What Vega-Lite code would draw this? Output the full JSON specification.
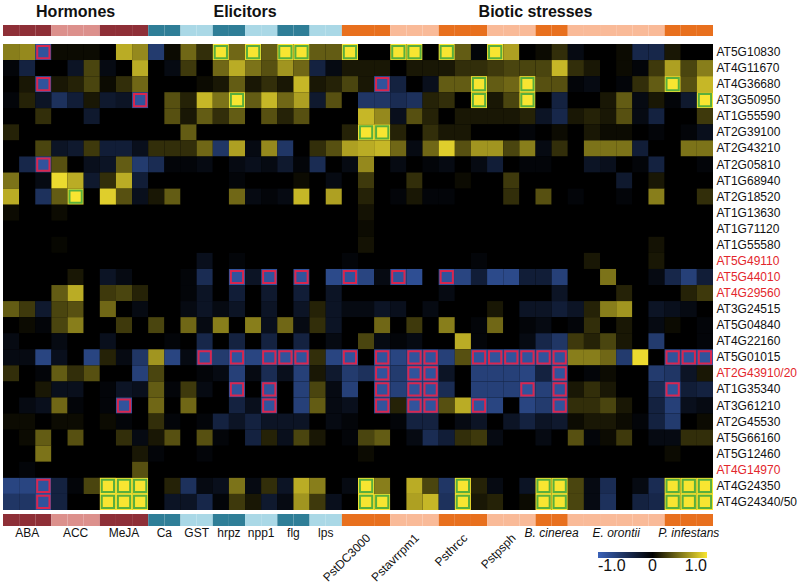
{
"$schema":"https://vega.github.io/schema/vega-lite/v6.json",
"padding":{"left":3,"top":4,"right":0,"bottom":0},
"background":"white",
"config":{"font":"Liberation Sans","view":{"stroke":null}},
"bounds":"flush",
"spacing":8,
"datasets":{
"genes":[{"r":0,"g":"AT5G10830"},{"r":1,"g":"AT4G11670"},{"r":2,"g":"AT4G36680"},{"r":3,"g":"AT3G50950"},{"r":4,"g":"AT1G55590"},{"r":5,"g":"AT2G39100"},{"r":6,"g":"AT2G43210"},{"r":7,"g":"AT2G05810"},{"r":8,"g":"AT1G68940"},{"r":9,"g":"AT2G18520"},{"r":10,"g":"AT1G13630"},{"r":11,"g":"AT1G71120"},{"r":12,"g":"AT1G55580"},{"r":13,"g":"AT5G49110"},{"r":14,"g":"AT5G44010"},{"r":15,"g":"AT4G29560"},{"r":16,"g":"AT3G24515"},{"r":17,"g":"AT5G04840"},{"r":18,"g":"AT4G22160"},{"r":19,"g":"AT5G01015"},{"r":20,"g":"AT2G43910/20"},{"r":21,"g":"AT1G35340"},{"r":22,"g":"AT3G61210"},{"r":23,"g":"AT2G45530"},{"r":24,"g":"AT5G66160"},{"r":25,"g":"AT5G12460"},{"r":26,"g":"AT4G14970"},{"r":27,"g":"AT4G24350"},{"r":28,"g":"AT4G24340/50"}],
"cols":[{"c":0,"grp":"ABA"},{"c":1,"grp":"ABA"},{"c":2,"grp":"ABA"},{"c":3,"grp":"ACC"},{"c":4,"grp":"ACC"},{"c":5,"grp":"ACC"},{"c":6,"grp":"MeJA"},{"c":7,"grp":"MeJA"},{"c":8,"grp":"MeJA"},{"c":9,"grp":"Ca"},{"c":10,"grp":"Ca"},{"c":11,"grp":"GST"},{"c":12,"grp":"GST"},{"c":13,"grp":"hrpz"},{"c":14,"grp":"hrpz"},{"c":15,"grp":"npp1"},{"c":16,"grp":"npp1"},{"c":17,"grp":"flg"},{"c":18,"grp":"flg"},{"c":19,"grp":"lps"},{"c":20,"grp":"lps"},{"c":21,"grp":"PstDC3000"},{"c":22,"grp":"PstDC3000"},{"c":23,"grp":"PstDC3000"},{"c":24,"grp":"Pstavrrpm1"},{"c":25,"grp":"Pstavrrpm1"},{"c":26,"grp":"Pstavrrpm1"},{"c":27,"grp":"Psthrcc"},{"c":28,"grp":"Psthrcc"},{"c":29,"grp":"Psthrcc"},{"c":30,"grp":"Pstpsph"},{"c":31,"grp":"Pstpsph"},{"c":32,"grp":"Pstpsph"},{"c":33,"grp":"B. cinerea"},{"c":34,"grp":"B. cinerea"},{"c":35,"grp":"E. orontii"},{"c":36,"grp":"E. orontii"},{"c":37,"grp":"E. orontii"},{"c":38,"grp":"E. orontii"},{"c":39,"grp":"E. orontii"},{"c":40,"grp":"E. orontii"},{"c":41,"grp":"P. infestans"},{"c":42,"grp":"P. infestans"},{"c":43,"grp":"P. infestans"}],
"cells":[
{"r":0,"c":0,"v":0.55},{"r":0,"c":1,"v":0.6},{"r":0,"c":2,"v":-0.85,"s":-1},{"r":0,"c":3,"v":0.05},{"r":0,"c":4,"v":0.05},{"r":0,"c":5,"v":0.05},{"r":0,"c":6,"v":0},{"r":0,"c":7,"v":0.75},{"r":0,"c":8,"v":0.6},{"r":0,"c":9,"v":-0.6},{"r":0,"c":10,"v":0.05},{"r":0,"c":11,"v":0.45},{"r":0,"c":12,"v":0.2},{"r":0,"c":13,"v":1,"s":1},{"r":0,"c":14,"v":0.45},{"r":0,"c":15,"v":1,"s":1},{"r":0,"c":16,"v":0.4},{"r":0,"c":17,"v":1,"s":1},{"r":0,"c":18,"v":1,"s":1},{"r":0,"c":19,"v":0.4},{"r":0,"c":20,"v":0.4},{"r":0,"c":21,"v":1,"s":1},{"r":0,"c":22,"v":0},{"r":0,"c":23,"v":0},{"r":0,"c":24,"v":1,"s":1},{"r":0,"c":25,"v":1,"s":1},{"r":0,"c":26,"v":0},{"r":0,"c":27,"v":1,"s":1},{"r":0,"c":28,"v":0.4},{"r":0,"c":29,"v":-0.05},{"r":0,"c":30,"v":1,"s":1},{"r":0,"c":31,"v":0.7},{"r":0,"c":32,"v":0},{"r":0,"c":33,"v":0.05},{"r":0,"c":34,"v":0.2},{"r":0,"c":35,"v":-0.1},{"r":0,"c":36,"v":0},{"r":0,"c":37,"v":0},{"r":0,"c":38,"v":0.05},{"r":0,"c":39,"v":-0.4},{"r":0,"c":40,"v":-0.4},{"r":0,"c":41,"v":0.1},{"r":0,"c":42,"v":0},{"r":0,"c":43,"v":0},
{"r":1,"c":0,"v":-0.05},{"r":1,"c":1,"v":-0.35},{"r":1,"c":2,"v":0},{"r":1,"c":3,"v":0},{"r":1,"c":4,"v":-0.2},{"r":1,"c":5,"v":0.3},{"r":1,"c":6,"v":-0.1},{"r":1,"c":7,"v":0},{"r":1,"c":8,"v":0.75},{"r":1,"c":9,"v":0},{"r":1,"c":10,"v":-0.1},{"r":1,"c":11,"v":0.25},{"r":1,"c":12,"v":0},{"r":1,"c":13,"v":0.45},{"r":1,"c":14,"v":0.75},{"r":1,"c":15,"v":0.5},{"r":1,"c":16,"v":0.35},{"r":1,"c":17,"v":0.65},{"r":1,"c":18,"v":0.45},{"r":1,"c":19,"v":-0.35},{"r":1,"c":20,"v":-0.1},{"r":1,"c":21,"v":0.1},{"r":1,"c":22,"v":0.1},{"r":1,"c":23,"v":0.1},{"r":1,"c":24,"v":0},{"r":1,"c":25,"v":0.1},{"r":1,"c":26,"v":0.1},{"r":1,"c":27,"v":0.1},{"r":1,"c":28,"v":0.2},{"r":1,"c":29,"v":0.2},{"r":1,"c":30,"v":0.25},{"r":1,"c":31,"v":0.3},{"r":1,"c":32,"v":0.3},{"r":1,"c":33,"v":0.3},{"r":1,"c":34,"v":0.8},{"r":1,"c":35,"v":0.2},{"r":1,"c":36,"v":0.1},{"r":1,"c":37,"v":0},{"r":1,"c":38,"v":0.05},{"r":1,"c":39,"v":-0.05},{"r":1,"c":40,"v":0.25},{"r":1,"c":41,"v":0.7},{"r":1,"c":42,"v":0.3},{"r":1,"c":43,"v":0.55},
{"r":2,"c":0,"v":0},{"r":2,"c":1,"v":0.1},{"r":2,"c":2,"v":-0.85,"s":-1},{"r":2,"c":3,"v":0.1},{"r":2,"c":4,"v":0.15},{"r":2,"c":5,"v":0.3},{"r":2,"c":6,"v":0.05},{"r":2,"c":7,"v":0.2},{"r":2,"c":8,"v":0.45},{"r":2,"c":9,"v":0},{"r":2,"c":10,"v":0},{"r":2,"c":11,"v":0},{"r":2,"c":12,"v":0.05},{"r":2,"c":13,"v":0.1},{"r":2,"c":14,"v":0.4},{"r":2,"c":15,"v":0.1},{"r":2,"c":16,"v":0.2},{"r":2,"c":17,"v":0.1},{"r":2,"c":18,"v":0.8},{"r":2,"c":19,"v":0.1},{"r":2,"c":20,"v":0.15},{"r":2,"c":21,"v":0.3},{"r":2,"c":22,"v":0.1},{"r":2,"c":23,"v":-0.85,"s":-1},{"r":2,"c":24,"v":-0.35},{"r":2,"c":25,"v":0},{"r":2,"c":26,"v":-0.15},{"r":2,"c":27,"v":0.4},{"r":2,"c":28,"v":0.4},{"r":2,"c":29,"v":1,"s":1},{"r":2,"c":30,"v":0.4},{"r":2,"c":31,"v":0.45},{"r":2,"c":32,"v":1,"s":1},{"r":2,"c":33,"v":0.35},{"r":2,"c":34,"v":0.35},{"r":2,"c":35,"v":-0.05},{"r":2,"c":36,"v":-0.1},{"r":2,"c":37,"v":0},{"r":2,"c":38,"v":-0.05},{"r":2,"c":39,"v":0.2},{"r":2,"c":40,"v":0.4},{"r":2,"c":41,"v":1,"s":1},{"r":2,"c":42,"v":0.35},{"r":2,"c":43,"v":0.8},
{"r":3,"c":0,"v":-0.05},{"r":3,"c":1,"v":0.15},{"r":3,"c":2,"v":-0.2},{"r":3,"c":3,"v":-0.5},{"r":3,"c":4,"v":-0.3},{"r":3,"c":5,"v":0.1},{"r":3,"c":6,"v":-0.25},{"r":3,"c":7,"v":-0.2},{"r":3,"c":8,"v":-0.85,"s":-1},{"r":3,"c":9,"v":0},{"r":3,"c":10,"v":0.35},{"r":3,"c":11,"v":0.15},{"r":3,"c":12,"v":0.8},{"r":3,"c":13,"v":0.5},{"r":3,"c":14,"v":1,"s":1},{"r":3,"c":15,"v":0.4},{"r":3,"c":16,"v":0.8},{"r":3,"c":17,"v":0.45},{"r":3,"c":18,"v":0.7},{"r":3,"c":19,"v":-0.25},{"r":3,"c":20,"v":0.35},{"r":3,"c":21,"v":0},{"r":3,"c":22,"v":-0.55},{"r":3,"c":23,"v":-0.55},{"r":3,"c":24,"v":-0.45},{"r":3,"c":25,"v":-0.5},{"r":3,"c":26,"v":0.15},{"r":3,"c":27,"v":0.2},{"r":3,"c":28,"v":0},{"r":3,"c":29,"v":1,"s":1},{"r":3,"c":30,"v":0.1},{"r":3,"c":31,"v":0.3},{"r":3,"c":32,"v":1,"s":1},{"r":3,"c":33,"v":0},{"r":3,"c":34,"v":-0.35},{"r":3,"c":35,"v":0},{"r":3,"c":36,"v":0},{"r":3,"c":37,"v":0.1},{"r":3,"c":38,"v":0.4},{"r":3,"c":39,"v":-0.1},{"r":3,"c":40,"v":0.1},{"r":3,"c":41,"v":-0.05},{"r":3,"c":42,"v":-0.25},{"r":3,"c":43,"v":1,"s":1},
{"r":4,"c":0,"v":0},{"r":4,"c":1,"v":0},{"r":4,"c":2,"v":0.2},{"r":4,"c":3,"v":0},{"r":4,"c":4,"v":0},{"r":4,"c":5,"v":-0.25},{"r":4,"c":6,"v":0},{"r":4,"c":7,"v":0},{"r":4,"c":8,"v":0},{"r":4,"c":9,"v":0},{"r":4,"c":10,"v":0.35},{"r":4,"c":11,"v":0.1},{"r":4,"c":12,"v":0.4},{"r":4,"c":13,"v":0.2},{"r":4,"c":14,"v":0.4},{"r":4,"c":15,"v":0},{"r":4,"c":16,"v":0.35},{"r":4,"c":17,"v":0.15},{"r":4,"c":18,"v":0.35},{"r":4,"c":19,"v":0},{"r":4,"c":20,"v":0},{"r":4,"c":21,"v":0},{"r":4,"c":22,"v":0.8},{"r":4,"c":23,"v":0.6},{"r":4,"c":24,"v":-0.15},{"r":4,"c":25,"v":0.35},{"r":4,"c":26,"v":0.15},{"r":4,"c":27,"v":0},{"r":4,"c":28,"v":0.1},{"r":4,"c":29,"v":0.1},{"r":4,"c":30,"v":0.1},{"r":4,"c":31,"v":0.1},{"r":4,"c":32,"v":0.15},{"r":4,"c":33,"v":-0.2},{"r":4,"c":34,"v":-0.4},{"r":4,"c":35,"v":0.1},{"r":4,"c":36,"v":0.15},{"r":4,"c":37,"v":0.1},{"r":4,"c":38,"v":0.35},{"r":4,"c":39,"v":-0.1},{"r":4,"c":40,"v":-0.35},{"r":4,"c":41,"v":0},{"r":4,"c":42,"v":0},{"r":4,"c":43,"v":0.25},
{"r":5,"c":0,"v":0.15},{"r":5,"c":1,"v":0},{"r":5,"c":2,"v":0},{"r":5,"c":3,"v":0},{"r":5,"c":4,"v":0},{"r":5,"c":5,"v":0},{"r":5,"c":6,"v":0},{"r":5,"c":7,"v":0},{"r":5,"c":8,"v":0},{"r":5,"c":9,"v":0},{"r":5,"c":10,"v":0},{"r":5,"c":11,"v":0.4},{"r":5,"c":12,"v":0},{"r":5,"c":13,"v":0},{"r":5,"c":14,"v":0},{"r":5,"c":15,"v":0},{"r":5,"c":16,"v":0},{"r":5,"c":17,"v":0},{"r":5,"c":18,"v":0},{"r":5,"c":19,"v":0},{"r":5,"c":20,"v":0},{"r":5,"c":21,"v":0.15},{"r":5,"c":22,"v":1,"s":1},{"r":5,"c":23,"v":1,"s":1},{"r":5,"c":24,"v":0.15},{"r":5,"c":25,"v":0},{"r":5,"c":26,"v":0.2},{"r":5,"c":27,"v":0.1},{"r":5,"c":28,"v":0.1},{"r":5,"c":29,"v":0},{"r":5,"c":30,"v":0},{"r":5,"c":31,"v":0},{"r":5,"c":32,"v":-0.05},{"r":5,"c":33,"v":0},{"r":5,"c":34,"v":0.05},{"r":5,"c":35,"v":0},{"r":5,"c":36,"v":0.1},{"r":5,"c":37,"v":0.05},{"r":5,"c":38,"v":0.05},{"r":5,"c":39,"v":0},{"r":5,"c":40,"v":-0.05},{"r":5,"c":41,"v":0},{"r":5,"c":42,"v":-0.05},{"r":5,"c":43,"v":-0.15},
{"r":6,"c":0,"v":0},{"r":6,"c":1,"v":0},{"r":6,"c":2,"v":0.3},{"r":6,"c":3,"v":-0.2},{"r":6,"c":4,"v":-0.25},{"r":6,"c":5,"v":0.25},{"r":6,"c":6,"v":-0.3},{"r":6,"c":7,"v":-0.3},{"r":6,"c":8,"v":-0.15},{"r":6,"c":9,"v":0.2},{"r":6,"c":10,"v":0.2},{"r":6,"c":11,"v":0.2},{"r":6,"c":12,"v":0.45},{"r":6,"c":13,"v":-0.55},{"r":6,"c":14,"v":0.7},{"r":6,"c":15,"v":-0.1},{"r":6,"c":16,"v":0.6},{"r":6,"c":17,"v":-0.55},{"r":6,"c":18,"v":0},{"r":6,"c":19,"v":0.2},{"r":6,"c":20,"v":0.35},{"r":6,"c":21,"v":0.7},{"r":6,"c":22,"v":0.75},{"r":6,"c":23,"v":0.8},{"r":6,"c":24,"v":0.45},{"r":6,"c":25,"v":-0.1},{"r":6,"c":26,"v":0.45},{"r":6,"c":27,"v":0.9},{"r":6,"c":28,"v":0.35},{"r":6,"c":29,"v":0.65},{"r":6,"c":30,"v":0.65},{"r":6,"c":31,"v":0.3},{"r":6,"c":32,"v":0.55},{"r":6,"c":33,"v":-0.1},{"r":6,"c":34,"v":0.2},{"r":6,"c":35,"v":0},{"r":6,"c":36,"v":0.5},{"r":6,"c":37,"v":0.5},{"r":6,"c":38,"v":0.5},{"r":6,"c":39,"v":-0.3},{"r":6,"c":40,"v":0},{"r":6,"c":41,"v":0},{"r":6,"c":42,"v":0.5},{"r":6,"c":43,"v":0.5},
{"r":7,"c":0,"v":0},{"r":7,"c":1,"v":-0.4},{"r":7,"c":2,"v":-0.85,"s":-1},{"r":7,"c":3,"v":0.35},{"r":7,"c":4,"v":0},{"r":7,"c":5,"v":-0.15},{"r":7,"c":6,"v":-0.2},{"r":7,"c":7,"v":0.4},{"r":7,"c":8,"v":-0.6},{"r":7,"c":9,"v":-0.45},{"r":7,"c":10,"v":-0.05},{"r":7,"c":11,"v":-0.05},{"r":7,"c":12,"v":-0.1},{"r":7,"c":13,"v":0},{"r":7,"c":14,"v":-0.1},{"r":7,"c":15,"v":-0.15},{"r":7,"c":16,"v":-0.1},{"r":7,"c":17,"v":-0.25},{"r":7,"c":18,"v":-0.05},{"r":7,"c":19,"v":-0.45},{"r":7,"c":20,"v":0},{"r":7,"c":21,"v":-0.1},{"r":7,"c":22,"v":0.6},{"r":7,"c":23,"v":0},{"r":7,"c":24,"v":-0.1},{"r":7,"c":25,"v":0},{"r":7,"c":26,"v":-0.05},{"r":7,"c":27,"v":-0.1},{"r":7,"c":28,"v":0},{"r":7,"c":29,"v":-0.1},{"r":7,"c":30,"v":-0.3},{"r":7,"c":31,"v":0},{"r":7,"c":32,"v":-0.05},{"r":7,"c":33,"v":-0.05},{"r":7,"c":34,"v":0},{"r":7,"c":35,"v":0},{"r":7,"c":36,"v":-0.2},{"r":7,"c":37,"v":-0.15},{"r":7,"c":38,"v":0},{"r":7,"c":39,"v":-0.05},{"r":7,"c":40,"v":-0.35},{"r":7,"c":41,"v":0},{"r":7,"c":42,"v":0},{"r":7,"c":43,"v":-0.05},
{"r":8,"c":0,"v":0.5},{"r":8,"c":1,"v":0},{"r":8,"c":2,"v":-0.1},{"r":8,"c":3,"v":0.95},{"r":8,"c":4,"v":0.75},{"r":8,"c":5,"v":-0.25},{"r":8,"c":6,"v":0.2},{"r":8,"c":7,"v":0.75},{"r":8,"c":8,"v":-0.3},{"r":8,"c":9,"v":0},{"r":8,"c":10,"v":0},{"r":8,"c":11,"v":0},{"r":8,"c":12,"v":0},{"r":8,"c":13,"v":0},{"r":8,"c":14,"v":-0.05},{"r":8,"c":15,"v":0},{"r":8,"c":16,"v":0},{"r":8,"c":17,"v":0},{"r":8,"c":18,"v":0.05},{"r":8,"c":19,"v":0},{"r":8,"c":20,"v":-0.1},{"r":8,"c":21,"v":0},{"r":8,"c":22,"v":0.25},{"r":8,"c":23,"v":0},{"r":8,"c":24,"v":0},{"r":8,"c":25,"v":0.2},{"r":8,"c":26,"v":0},{"r":8,"c":27,"v":0},{"r":8,"c":28,"v":0.05},{"r":8,"c":29,"v":0},{"r":8,"c":30,"v":0},{"r":8,"c":31,"v":0.25},{"r":8,"c":32,"v":0},{"r":8,"c":33,"v":0},{"r":8,"c":34,"v":0},{"r":8,"c":35,"v":0},{"r":8,"c":36,"v":0},{"r":8,"c":37,"v":0},{"r":8,"c":38,"v":-0.25},{"r":8,"c":39,"v":0},{"r":8,"c":40,"v":0.1},{"r":8,"c":41,"v":0},{"r":8,"c":42,"v":0},{"r":8,"c":43,"v":0},
{"r":9,"c":0,"v":0.75},{"r":9,"c":1,"v":0},{"r":9,"c":2,"v":-0.5},{"r":9,"c":3,"v":0.4},{"r":9,"c":4,"v":1,"s":1},{"r":9,"c":5,"v":0},{"r":9,"c":6,"v":0.9},{"r":9,"c":7,"v":0.35},{"r":9,"c":8,"v":-0.15},{"r":9,"c":9,"v":0.1},{"r":9,"c":10,"v":0.4},{"r":9,"c":11,"v":0},{"r":9,"c":12,"v":0},{"r":9,"c":13,"v":0},{"r":9,"c":14,"v":0.45},{"r":9,"c":15,"v":-0.1},{"r":9,"c":16,"v":-0.05},{"r":9,"c":17,"v":-0.1},{"r":9,"c":18,"v":0.8},{"r":9,"c":19,"v":0},{"r":9,"c":20,"v":0.7},{"r":9,"c":21,"v":0},{"r":9,"c":22,"v":0.15},{"r":9,"c":23,"v":0},{"r":9,"c":24,"v":-0.05},{"r":9,"c":25,"v":0.1},{"r":9,"c":26,"v":-0.05},{"r":9,"c":27,"v":-0.05},{"r":9,"c":28,"v":0},{"r":9,"c":29,"v":0},{"r":9,"c":30,"v":0},{"r":9,"c":31,"v":0.2},{"r":9,"c":32,"v":0},{"r":9,"c":33,"v":0.35},{"r":9,"c":34,"v":0},{"r":9,"c":35,"v":-0.05},{"r":9,"c":36,"v":0},{"r":9,"c":37,"v":0},{"r":9,"c":38,"v":-0.05},{"r":9,"c":39,"v":0},{"r":9,"c":40,"v":0.55},{"r":9,"c":41,"v":0},{"r":9,"c":42,"v":0},{"r":9,"c":43,"v":0.2},
{"r":10,"c":0,"v":0.05},{"r":10,"c":1,"v":0},{"r":10,"c":2,"v":0},{"r":10,"c":3,"v":0.05},{"r":10,"c":4,"v":0},{"r":10,"c":5,"v":0},{"r":10,"c":6,"v":0},{"r":10,"c":7,"v":0},{"r":10,"c":8,"v":0},{"r":10,"c":9,"v":0},{"r":10,"c":10,"v":0},{"r":10,"c":11,"v":0},{"r":10,"c":12,"v":0},{"r":10,"c":13,"v":0},{"r":10,"c":14,"v":0},{"r":10,"c":15,"v":0},{"r":10,"c":16,"v":0},{"r":10,"c":17,"v":0},{"r":10,"c":18,"v":0},{"r":10,"c":19,"v":0},{"r":10,"c":20,"v":0},{"r":10,"c":21,"v":0},{"r":10,"c":22,"v":0.08},{"r":10,"c":23,"v":0},{"r":10,"c":24,"v":0},{"r":10,"c":25,"v":0},{"r":10,"c":26,"v":0},{"r":10,"c":27,"v":0},{"r":10,"c":28,"v":0},{"r":10,"c":29,"v":0},{"r":10,"c":30,"v":0},{"r":10,"c":31,"v":0},{"r":10,"c":32,"v":0},{"r":10,"c":33,"v":0},{"r":10,"c":34,"v":0},{"r":10,"c":35,"v":0},{"r":10,"c":36,"v":0},{"r":10,"c":37,"v":0},{"r":10,"c":38,"v":0},{"r":10,"c":39,"v":0},{"r":10,"c":40,"v":0},{"r":10,"c":41,"v":0},{"r":10,"c":42,"v":0},{"r":10,"c":43,"v":0},
{"r":11,"c":0,"v":0},{"r":11,"c":1,"v":0},{"r":11,"c":2,"v":0},{"r":11,"c":3,"v":0},{"r":11,"c":4,"v":0},{"r":11,"c":5,"v":0},{"r":11,"c":6,"v":0},{"r":11,"c":7,"v":0},{"r":11,"c":8,"v":0},{"r":11,"c":9,"v":0},{"r":11,"c":10,"v":0},{"r":11,"c":11,"v":0},{"r":11,"c":12,"v":0},{"r":11,"c":13,"v":0},{"r":11,"c":14,"v":0},{"r":11,"c":15,"v":0},{"r":11,"c":16,"v":0},{"r":11,"c":17,"v":0},{"r":11,"c":18,"v":0},{"r":11,"c":19,"v":0},{"r":11,"c":20,"v":0},{"r":11,"c":21,"v":0},{"r":11,"c":22,"v":0.05},{"r":11,"c":23,"v":0},{"r":11,"c":24,"v":0},{"r":11,"c":25,"v":0},{"r":11,"c":26,"v":0},{"r":11,"c":27,"v":0},{"r":11,"c":28,"v":0},{"r":11,"c":29,"v":0},{"r":11,"c":30,"v":0},{"r":11,"c":31,"v":0},{"r":11,"c":32,"v":0},{"r":11,"c":33,"v":0},{"r":11,"c":34,"v":0},{"r":11,"c":35,"v":0},{"r":11,"c":36,"v":0},{"r":11,"c":37,"v":0},{"r":11,"c":38,"v":0},{"r":11,"c":39,"v":0},{"r":11,"c":40,"v":0},{"r":11,"c":41,"v":0},{"r":11,"c":42,"v":0},{"r":11,"c":43,"v":0},
{"r":12,"c":0,"v":0},{"r":12,"c":1,"v":0},{"r":12,"c":2,"v":0},{"r":12,"c":3,"v":0.03},{"r":12,"c":4,"v":0},{"r":12,"c":5,"v":0},{"r":12,"c":6,"v":0},{"r":12,"c":7,"v":0},{"r":12,"c":8,"v":0},{"r":12,"c":9,"v":0},{"r":12,"c":10,"v":0},{"r":12,"c":11,"v":0},{"r":12,"c":12,"v":0},{"r":12,"c":13,"v":0},{"r":12,"c":14,"v":0},{"r":12,"c":15,"v":0},{"r":12,"c":16,"v":0},{"r":12,"c":17,"v":0},{"r":12,"c":18,"v":0},{"r":12,"c":19,"v":0},{"r":12,"c":20,"v":0},{"r":12,"c":21,"v":0},{"r":12,"c":22,"v":0.08},{"r":12,"c":23,"v":0},{"r":12,"c":24,"v":0},{"r":12,"c":25,"v":0},{"r":12,"c":26,"v":0},{"r":12,"c":27,"v":0},{"r":12,"c":28,"v":0},{"r":12,"c":29,"v":0},{"r":12,"c":30,"v":0},{"r":12,"c":31,"v":0},{"r":12,"c":32,"v":0},{"r":12,"c":33,"v":0},{"r":12,"c":34,"v":0},{"r":12,"c":35,"v":0},{"r":12,"c":36,"v":0},{"r":12,"c":37,"v":0},{"r":12,"c":38,"v":0},{"r":12,"c":39,"v":0},{"r":12,"c":40,"v":0.08},{"r":12,"c":41,"v":0},{"r":12,"c":42,"v":0},{"r":12,"c":43,"v":0},
{"r":13,"c":0,"v":0},{"r":13,"c":1,"v":0},{"r":13,"c":2,"v":0},{"r":13,"c":3,"v":0},{"r":13,"c":4,"v":0},{"r":13,"c":5,"v":0},{"r":13,"c":6,"v":0},{"r":13,"c":7,"v":0},{"r":13,"c":8,"v":0},{"r":13,"c":9,"v":0},{"r":13,"c":10,"v":0},{"r":13,"c":11,"v":0},{"r":13,"c":12,"v":-0.15},{"r":13,"c":13,"v":0},{"r":13,"c":14,"v":-0.05},{"r":13,"c":15,"v":0},{"r":13,"c":16,"v":0},{"r":13,"c":17,"v":0},{"r":13,"c":18,"v":0},{"r":13,"c":19,"v":0},{"r":13,"c":20,"v":0},{"r":13,"c":21,"v":-0.05},{"r":13,"c":22,"v":0},{"r":13,"c":23,"v":0},{"r":13,"c":24,"v":0},{"r":13,"c":25,"v":0},{"r":13,"c":26,"v":0},{"r":13,"c":27,"v":0},{"r":13,"c":28,"v":0},{"r":13,"c":29,"v":-0.05},{"r":13,"c":30,"v":0},{"r":13,"c":31,"v":0},{"r":13,"c":32,"v":0},{"r":13,"c":33,"v":0},{"r":13,"c":34,"v":0},{"r":13,"c":35,"v":0},{"r":13,"c":36,"v":0.1},{"r":13,"c":37,"v":0},{"r":13,"c":38,"v":0},{"r":13,"c":39,"v":0},{"r":13,"c":40,"v":0.1},{"r":13,"c":41,"v":0},{"r":13,"c":42,"v":0},{"r":13,"c":43,"v":0},
{"r":14,"c":0,"v":0},{"r":14,"c":1,"v":0},{"r":14,"c":2,"v":0},{"r":14,"c":3,"v":0},{"r":14,"c":4,"v":0.1},{"r":14,"c":5,"v":0},{"r":14,"c":6,"v":-0.2},{"r":14,"c":7,"v":-0.1},{"r":14,"c":8,"v":0},{"r":14,"c":9,"v":0},{"r":14,"c":10,"v":0},{"r":14,"c":11,"v":-0.05},{"r":14,"c":12,"v":-0.45},{"r":14,"c":13,"v":0},{"r":14,"c":14,"v":-0.85,"s":-1},{"r":14,"c":15,"v":-0.2},{"r":14,"c":16,"v":-0.85,"s":-1},{"r":14,"c":17,"v":0},{"r":14,"c":18,"v":-0.85,"s":-1},{"r":14,"c":19,"v":0},{"r":14,"c":20,"v":-0.75},{"r":14,"c":21,"v":-0.85,"s":-1},{"r":14,"c":22,"v":-0.7},{"r":14,"c":23,"v":-0.1},{"r":14,"c":24,"v":-0.85,"s":-1},{"r":14,"c":25,"v":-0.8},{"r":14,"c":26,"v":0},{"r":14,"c":27,"v":-0.85,"s":-1},{"r":14,"c":28,"v":-0.7},{"r":14,"c":29,"v":-0.3},{"r":14,"c":30,"v":-0.75},{"r":14,"c":31,"v":-0.75},{"r":14,"c":32,"v":-0.3},{"r":14,"c":33,"v":-0.3},{"r":14,"c":34,"v":-0.65},{"r":14,"c":35,"v":0},{"r":14,"c":36,"v":0},{"r":14,"c":37,"v":0.5},{"r":14,"c":38,"v":0},{"r":14,"c":39,"v":0},{"r":14,"c":40,"v":-0.1},{"r":14,"c":41,"v":-0.4},{"r":14,"c":42,"v":-0.65},{"r":14,"c":43,"v":-0.3},
{"r":15,"c":0,"v":0},{"r":15,"c":1,"v":0},{"r":15,"c":2,"v":0},{"r":15,"c":3,"v":0.4},{"r":15,"c":4,"v":0.75},{"r":15,"c":5,"v":0},{"r":15,"c":6,"v":0.25},{"r":15,"c":7,"v":0.3},{"r":15,"c":8,"v":0.15},{"r":15,"c":9,"v":0},{"r":15,"c":10,"v":0},{"r":15,"c":11,"v":-0.05},{"r":15,"c":12,"v":-0.2},{"r":15,"c":13,"v":0},{"r":15,"c":14,"v":-0.3},{"r":15,"c":15,"v":0},{"r":15,"c":16,"v":-0.25},{"r":15,"c":17,"v":0},{"r":15,"c":18,"v":-0.3},{"r":15,"c":19,"v":0},{"r":15,"c":20,"v":-0.2},{"r":15,"c":21,"v":0},{"r":15,"c":22,"v":0},{"r":15,"c":23,"v":0},{"r":15,"c":24,"v":0},{"r":15,"c":25,"v":0},{"r":15,"c":26,"v":0},{"r":15,"c":27,"v":-0.1},{"r":15,"c":28,"v":0},{"r":15,"c":29,"v":0},{"r":15,"c":30,"v":0},{"r":15,"c":31,"v":0},{"r":15,"c":32,"v":0},{"r":15,"c":33,"v":0},{"r":15,"c":34,"v":-0.2},{"r":15,"c":35,"v":0},{"r":15,"c":36,"v":0},{"r":15,"c":37,"v":0},{"r":15,"c":38,"v":0.15},{"r":15,"c":39,"v":0},{"r":15,"c":40,"v":0},{"r":15,"c":41,"v":0},{"r":15,"c":42,"v":0.15},{"r":15,"c":43,"v":0.25},
{"r":16,"c":0,"v":0.4},{"r":16,"c":1,"v":0.25},{"r":16,"c":2,"v":-0.25},{"r":16,"c":3,"v":0.3},{"r":16,"c":4,"v":0.35},{"r":16,"c":5,"v":0},{"r":16,"c":6,"v":0.45},{"r":16,"c":7,"v":0},{"r":16,"c":8,"v":-0.1},{"r":16,"c":9,"v":0},{"r":16,"c":10,"v":0},{"r":16,"c":11,"v":-0.1},{"r":16,"c":12,"v":-0.2},{"r":16,"c":13,"v":-0.1},{"r":16,"c":14,"v":-0.2},{"r":16,"c":15,"v":0},{"r":16,"c":16,"v":-0.2},{"r":16,"c":17,"v":0},{"r":16,"c":18,"v":-0.2},{"r":16,"c":19,"v":0.15},{"r":16,"c":20,"v":-0.2},{"r":16,"c":21,"v":-0.1},{"r":16,"c":22,"v":-0.1},{"r":16,"c":23,"v":-0.2},{"r":16,"c":24,"v":-0.15},{"r":16,"c":25,"v":0},{"r":16,"c":26,"v":-0.1},{"r":16,"c":27,"v":0},{"r":16,"c":28,"v":0},{"r":16,"c":29,"v":0},{"r":16,"c":30,"v":0.1},{"r":16,"c":31,"v":0},{"r":16,"c":32,"v":-0.2},{"r":16,"c":33,"v":-0.2},{"r":16,"c":34,"v":-0.3},{"r":16,"c":35,"v":-0.2},{"r":16,"c":36,"v":0.15},{"r":16,"c":37,"v":0.55},{"r":16,"c":38,"v":0.65},{"r":16,"c":39,"v":0},{"r":16,"c":40,"v":-0.2},{"r":16,"c":41,"v":-0.15},{"r":16,"c":42,"v":-0.1},{"r":16,"c":43,"v":0},
{"r":17,"c":0,"v":0},{"r":17,"c":1,"v":0.05},{"r":17,"c":2,"v":-0.05},{"r":17,"c":3,"v":0.3},{"r":17,"c":4,"v":0.55},{"r":17,"c":5,"v":0},{"r":17,"c":6,"v":0},{"r":17,"c":7,"v":0.25},{"r":17,"c":8,"v":0},{"r":17,"c":9,"v":0.3},{"r":17,"c":10,"v":0},{"r":17,"c":11,"v":0.45},{"r":17,"c":12,"v":-0.1},{"r":17,"c":13,"v":0.55},{"r":17,"c":14,"v":0},{"r":17,"c":15,"v":0.55},{"r":17,"c":16,"v":-0.15},{"r":17,"c":17,"v":0.45},{"r":17,"c":18,"v":-0.1},{"r":17,"c":19,"v":0.2},{"r":17,"c":20,"v":-0.2},{"r":17,"c":21,"v":0},{"r":17,"c":22,"v":0},{"r":17,"c":23,"v":0.45},{"r":17,"c":24,"v":0},{"r":17,"c":25,"v":0.25},{"r":17,"c":26,"v":0},{"r":17,"c":27,"v":0.55},{"r":17,"c":28,"v":0},{"r":17,"c":29,"v":-0.05},{"r":17,"c":30,"v":0.45},{"r":17,"c":31,"v":0},{"r":17,"c":32,"v":-0.05},{"r":17,"c":33,"v":-0.1},{"r":17,"c":34,"v":0},{"r":17,"c":35,"v":-0.05},{"r":17,"c":36,"v":0.2},{"r":17,"c":37,"v":0},{"r":17,"c":38,"v":0.1},{"r":17,"c":39,"v":0},{"r":17,"c":40,"v":-0.1},{"r":17,"c":41,"v":0.05},{"r":17,"c":42,"v":0},{"r":17,"c":43,"v":-0.05},
{"r":18,"c":0,"v":-0.1},{"r":18,"c":1,"v":0},{"r":18,"c":2,"v":0},{"r":18,"c":3,"v":-0.1},{"r":18,"c":4,"v":0},{"r":18,"c":5,"v":0},{"r":18,"c":6,"v":-0.15},{"r":18,"c":7,"v":0},{"r":18,"c":8,"v":0},{"r":18,"c":9,"v":0},{"r":18,"c":10,"v":-0.05},{"r":18,"c":11,"v":0},{"r":18,"c":12,"v":-0.4},{"r":18,"c":13,"v":0},{"r":18,"c":14,"v":-0.35},{"r":18,"c":15,"v":0},{"r":18,"c":16,"v":-0.35},{"r":18,"c":17,"v":0},{"r":18,"c":18,"v":-0.35},{"r":18,"c":19,"v":0},{"r":18,"c":20,"v":-0.1},{"r":18,"c":21,"v":0},{"r":18,"c":22,"v":0.3},{"r":18,"c":23,"v":-0.1},{"r":18,"c":24,"v":-0.05},{"r":18,"c":25,"v":-0.1},{"r":18,"c":26,"v":0},{"r":18,"c":27,"v":0},{"r":18,"c":28,"v":0.75},{"r":18,"c":29,"v":-0.05},{"r":18,"c":30,"v":0},{"r":18,"c":31,"v":0},{"r":18,"c":32,"v":-0.1},{"r":18,"c":33,"v":-0.4},{"r":18,"c":34,"v":-0.55},{"r":18,"c":35,"v":0.25},{"r":18,"c":36,"v":0.15},{"r":18,"c":37,"v":0.3},{"r":18,"c":38,"v":0.1},{"r":18,"c":39,"v":0},{"r":18,"c":40,"v":-0.6},{"r":18,"c":41,"v":0},{"r":18,"c":42,"v":0},{"r":18,"c":43,"v":-0.05},
{"r":19,"c":0,"v":-0.1},{"r":19,"c":1,"v":-0.1},{"r":19,"c":2,"v":-0.7},{"r":19,"c":3,"v":-0.15},{"r":19,"c":4,"v":0},{"r":19,"c":5,"v":-0.7},{"r":19,"c":6,"v":0.15},{"r":19,"c":7,"v":-0.1},{"r":19,"c":8,"v":-0.55},{"r":19,"c":9,"v":0.65},{"r":19,"c":10,"v":-0.7},{"r":19,"c":11,"v":-0.1},{"r":19,"c":12,"v":-0.85,"s":-1},{"r":19,"c":13,"v":-0.6},{"r":19,"c":14,"v":-0.85,"s":-1},{"r":19,"c":15,"v":-0.7},{"r":19,"c":16,"v":-0.85,"s":-1},{"r":19,"c":17,"v":-0.85,"s":-1},{"r":19,"c":18,"v":-0.85,"s":-1},{"r":19,"c":19,"v":0.2},{"r":19,"c":20,"v":-0.7},{"r":19,"c":21,"v":-0.85,"s":-1},{"r":19,"c":22,"v":0},{"r":19,"c":23,"v":-0.85,"s":-1},{"r":19,"c":24,"v":-0.7},{"r":19,"c":25,"v":-0.85,"s":-1},{"r":19,"c":26,"v":-0.85,"s":-1},{"r":19,"c":27,"v":-0.65},{"r":19,"c":28,"v":0.35},{"r":19,"c":29,"v":-0.85,"s":-1},{"r":19,"c":30,"v":-0.85,"s":-1},{"r":19,"c":31,"v":-0.85,"s":-1},{"r":19,"c":32,"v":-0.85,"s":-1},{"r":19,"c":33,"v":-0.85,"s":-1},{"r":19,"c":34,"v":-0.85,"s":-1},{"r":19,"c":35,"v":0.55},{"r":19,"c":36,"v":0.55},{"r":19,"c":37,"v":0.45},{"r":19,"c":38,"v":-0.6},{"r":19,"c":39,"v":0.95},{"r":19,"c":40,"v":0},{"r":19,"c":41,"v":-0.85,"s":-1},{"r":19,"c":42,"v":-0.85,"s":-1},{"r":19,"c":43,"v":-0.85,"s":-1},
{"r":20,"c":0,"v":0.2},{"r":20,"c":1,"v":0},{"r":20,"c":2,"v":-0.05},{"r":20,"c":3,"v":0.4},{"r":20,"c":4,"v":0.2},{"r":20,"c":5,"v":0.35},{"r":20,"c":6,"v":0},{"r":20,"c":7,"v":0},{"r":20,"c":8,"v":-0.65},{"r":20,"c":9,"v":0.3},{"r":20,"c":10,"v":0},{"r":20,"c":11,"v":0},{"r":20,"c":12,"v":-0.05},{"r":20,"c":13,"v":-0.1},{"r":20,"c":14,"v":-0.65},{"r":20,"c":15,"v":-0.1},{"r":20,"c":16,"v":-0.45},{"r":20,"c":17,"v":-0.15},{"r":20,"c":18,"v":-0.65},{"r":20,"c":19,"v":0.1},{"r":20,"c":20,"v":-0.25},{"r":20,"c":21,"v":-0.6},{"r":20,"c":22,"v":-0.5},{"r":20,"c":23,"v":-0.85,"s":-1},{"r":20,"c":24,"v":-0.6},{"r":20,"c":25,"v":-0.85,"s":-1},{"r":20,"c":26,"v":-0.85,"s":-1},{"r":20,"c":27,"v":-0.2},{"r":20,"c":28,"v":0},{"r":20,"c":29,"v":-0.65},{"r":20,"c":30,"v":-0.65},{"r":20,"c":31,"v":-0.65},{"r":20,"c":32,"v":-0.7},{"r":20,"c":33,"v":-0.35},{"r":20,"c":34,"v":-0.85,"s":-1},{"r":20,"c":35,"v":0},{"r":20,"c":36,"v":-0.05},{"r":20,"c":37,"v":0.05},{"r":20,"c":38,"v":0},{"r":20,"c":39,"v":0},{"r":20,"c":40,"v":-0.6},{"r":20,"c":41,"v":-0.55},{"r":20,"c":42,"v":-0.2},{"r":20,"c":43,"v":0.1},
{"r":21,"c":0,"v":0},{"r":21,"c":1,"v":0},{"r":21,"c":2,"v":0.1},{"r":21,"c":3,"v":-0.15},{"r":21,"c":4,"v":-0.15},{"r":21,"c":5,"v":0},{"r":21,"c":6,"v":-0.05},{"r":21,"c":7,"v":-0.2},{"r":21,"c":8,"v":-0.15},{"r":21,"c":9,"v":0.4},{"r":21,"c":10,"v":-0.05},{"r":21,"c":11,"v":0.25},{"r":21,"c":12,"v":-0.1},{"r":21,"c":13,"v":0},{"r":21,"c":14,"v":-0.85,"s":-1},{"r":21,"c":15,"v":0},{"r":21,"c":16,"v":-0.85,"s":-1},{"r":21,"c":17,"v":0},{"r":21,"c":18,"v":-0.65},{"r":21,"c":19,"v":0.3},{"r":21,"c":20,"v":-0.1},{"r":21,"c":21,"v":-0.65},{"r":21,"c":22,"v":0},{"r":21,"c":23,"v":-0.85,"s":-1},{"r":21,"c":24,"v":-0.65},{"r":21,"c":25,"v":-0.85,"s":-1},{"r":21,"c":26,"v":-0.85,"s":-1},{"r":21,"c":27,"v":-0.45},{"r":21,"c":28,"v":0},{"r":21,"c":29,"v":-0.65},{"r":21,"c":30,"v":-0.65},{"r":21,"c":31,"v":-0.65},{"r":21,"c":32,"v":-0.85,"s":-1},{"r":21,"c":33,"v":-0.65},{"r":21,"c":34,"v":-0.85,"s":-1},{"r":21,"c":35,"v":0.1},{"r":21,"c":36,"v":0.2},{"r":21,"c":37,"v":0.1},{"r":21,"c":38,"v":0},{"r":21,"c":39,"v":0},{"r":21,"c":40,"v":-0.45},{"r":21,"c":41,"v":-0.85,"s":-1},{"r":21,"c":42,"v":-0.3},{"r":21,"c":43,"v":-0.35},
{"r":22,"c":0,"v":0},{"r":22,"c":1,"v":-0.1},{"r":22,"c":2,"v":-0.15},{"r":22,"c":3,"v":0.45},{"r":22,"c":4,"v":-0.05},{"r":22,"c":5,"v":0},{"r":22,"c":6,"v":-0.05},{"r":22,"c":7,"v":-0.85,"s":-1},{"r":22,"c":8,"v":0},{"r":22,"c":9,"v":0.45},{"r":22,"c":10,"v":0},{"r":22,"c":11,"v":0.45},{"r":22,"c":12,"v":0},{"r":22,"c":13,"v":0},{"r":22,"c":14,"v":-0.35},{"r":22,"c":15,"v":-0.15},{"r":22,"c":16,"v":-0.85,"s":-1},{"r":22,"c":17,"v":0},{"r":22,"c":18,"v":-0.65},{"r":22,"c":19,"v":0.4},{"r":22,"c":20,"v":-0.1},{"r":22,"c":21,"v":-0.15},{"r":22,"c":22,"v":0},{"r":22,"c":23,"v":-0.85,"s":-1},{"r":22,"c":24,"v":0.15},{"r":22,"c":25,"v":-0.85,"s":-1},{"r":22,"c":26,"v":-0.85,"s":-1},{"r":22,"c":27,"v":0.35},{"r":22,"c":28,"v":0.75},{"r":22,"c":29,"v":-0.85,"s":-1},{"r":22,"c":30,"v":-0.7},{"r":22,"c":31,"v":0},{"r":22,"c":32,"v":-0.7},{"r":22,"c":33,"v":-0.6},{"r":22,"c":34,"v":-0.85,"s":-1},{"r":22,"c":35,"v":0.2},{"r":22,"c":36,"v":0.2},{"r":22,"c":37,"v":0.3},{"r":22,"c":38,"v":0.1},{"r":22,"c":39,"v":0},{"r":22,"c":40,"v":-0.35},{"r":22,"c":41,"v":-0.65},{"r":22,"c":42,"v":-0.15},{"r":22,"c":43,"v":-0.1},
{"r":23,"c":0,"v":0.05},{"r":23,"c":1,"v":0.05},{"r":23,"c":2,"v":0},{"r":23,"c":3,"v":0.05},{"r":23,"c":4,"v":0.05},{"r":23,"c":5,"v":0},{"r":23,"c":6,"v":0.05},{"r":23,"c":7,"v":-0.05},{"r":23,"c":8,"v":0},{"r":23,"c":9,"v":0.2},{"r":23,"c":10,"v":-0.05},{"r":23,"c":11,"v":0},{"r":23,"c":12,"v":-0.05},{"r":23,"c":13,"v":-0.35},{"r":23,"c":14,"v":-0.2},{"r":23,"c":15,"v":-0.35},{"r":23,"c":16,"v":-0.2},{"r":23,"c":17,"v":-0.2},{"r":23,"c":18,"v":-0.2},{"r":23,"c":19,"v":0},{"r":23,"c":20,"v":-0.1},{"r":23,"c":21,"v":-0.05},{"r":23,"c":22,"v":0},{"r":23,"c":23,"v":0},{"r":23,"c":24,"v":-0.05},{"r":23,"c":25,"v":-0.35},{"r":23,"c":26,"v":-0.35},{"r":23,"c":27,"v":0},{"r":23,"c":28,"v":-0.1},{"r":23,"c":29,"v":-0.2},{"r":23,"c":30,"v":0},{"r":23,"c":31,"v":-0.2},{"r":23,"c":32,"v":-0.35},{"r":23,"c":33,"v":-0.2},{"r":23,"c":34,"v":-0.25},{"r":23,"c":35,"v":0.05},{"r":23,"c":36,"v":0.1},{"r":23,"c":37,"v":0.1},{"r":23,"c":38,"v":0.05},{"r":23,"c":39,"v":-0.05},{"r":23,"c":40,"v":-0.35},{"r":23,"c":41,"v":-0.6},{"r":23,"c":42,"v":0},{"r":23,"c":43,"v":0.05},
{"r":24,"c":0,"v":0},{"r":24,"c":1,"v":0.05},{"r":24,"c":2,"v":0.4},{"r":24,"c":3,"v":0},{"r":24,"c":4,"v":0.35},{"r":24,"c":5,"v":0},{"r":24,"c":6,"v":0},{"r":24,"c":7,"v":0.2},{"r":24,"c":8,"v":-0.1},{"r":24,"c":9,"v":0.1},{"r":24,"c":10,"v":0.35},{"r":24,"c":11,"v":0},{"r":24,"c":12,"v":0.35},{"r":24,"c":13,"v":-0.05},{"r":24,"c":14,"v":0},{"r":24,"c":15,"v":-0.35},{"r":24,"c":16,"v":0.15},{"r":24,"c":17,"v":-0.15},{"r":24,"c":18,"v":0.3},{"r":24,"c":19,"v":0.1},{"r":24,"c":20,"v":0},{"r":24,"c":21,"v":-0.05},{"r":24,"c":22,"v":0.3},{"r":24,"c":23,"v":0.4},{"r":24,"c":24,"v":0},{"r":24,"c":25,"v":-0.1},{"r":24,"c":26,"v":-0.45},{"r":24,"c":27,"v":-0.3},{"r":24,"c":28,"v":0.2},{"r":24,"c":29,"v":0.25},{"r":24,"c":30,"v":-0.1},{"r":24,"c":31,"v":0},{"r":24,"c":32,"v":0},{"r":24,"c":33,"v":-0.1},{"r":24,"c":34,"v":0},{"r":24,"c":35,"v":0.35},{"r":24,"c":36,"v":-0.05},{"r":24,"c":37,"v":0.05},{"r":24,"c":38,"v":0.25},{"r":24,"c":39,"v":0},{"r":24,"c":40,"v":-0.1},{"r":24,"c":41,"v":-0.1},{"r":24,"c":42,"v":0.2},{"r":24,"c":43,"v":0.2},
{"r":25,"c":0,"v":0},{"r":25,"c":1,"v":0},{"r":25,"c":2,"v":0.5},{"r":25,"c":3,"v":0},{"r":25,"c":4,"v":0},{"r":25,"c":5,"v":0},{"r":25,"c":6,"v":0},{"r":25,"c":7,"v":0},{"r":25,"c":8,"v":0.1},{"r":25,"c":9,"v":-0.05},{"r":25,"c":10,"v":0},{"r":25,"c":11,"v":0},{"r":25,"c":12,"v":-0.05},{"r":25,"c":13,"v":0},{"r":25,"c":14,"v":0},{"r":25,"c":15,"v":0},{"r":25,"c":16,"v":0},{"r":25,"c":17,"v":0},{"r":25,"c":18,"v":0},{"r":25,"c":19,"v":0},{"r":25,"c":20,"v":0},{"r":25,"c":21,"v":0},{"r":25,"c":22,"v":0.05},{"r":25,"c":23,"v":0},{"r":25,"c":24,"v":0},{"r":25,"c":25,"v":0},{"r":25,"c":26,"v":0},{"r":25,"c":27,"v":0},{"r":25,"c":28,"v":0},{"r":25,"c":29,"v":0},{"r":25,"c":30,"v":0},{"r":25,"c":31,"v":0},{"r":25,"c":32,"v":0},{"r":25,"c":33,"v":0},{"r":25,"c":34,"v":0},{"r":25,"c":35,"v":0},{"r":25,"c":36,"v":0},{"r":25,"c":37,"v":0},{"r":25,"c":38,"v":0},{"r":25,"c":39,"v":0},{"r":25,"c":40,"v":0},{"r":25,"c":41,"v":0.05},{"r":25,"c":42,"v":0},{"r":25,"c":43,"v":0},
{"r":26,"c":0,"v":0},{"r":26,"c":1,"v":-0.05},{"r":26,"c":2,"v":0},{"r":26,"c":3,"v":0},{"r":26,"c":4,"v":0},{"r":26,"c":5,"v":0},{"r":26,"c":6,"v":0},{"r":26,"c":7,"v":0},{"r":26,"c":8,"v":0.35},{"r":26,"c":9,"v":0},{"r":26,"c":10,"v":0},{"r":26,"c":11,"v":0},{"r":26,"c":12,"v":0},{"r":26,"c":13,"v":0},{"r":26,"c":14,"v":0},{"r":26,"c":15,"v":0},{"r":26,"c":16,"v":0},{"r":26,"c":17,"v":0},{"r":26,"c":18,"v":0},{"r":26,"c":19,"v":0},{"r":26,"c":20,"v":0},{"r":26,"c":21,"v":0},{"r":26,"c":22,"v":0},{"r":26,"c":23,"v":0},{"r":26,"c":24,"v":0},{"r":26,"c":25,"v":0},{"r":26,"c":26,"v":0},{"r":26,"c":27,"v":0},{"r":26,"c":28,"v":0},{"r":26,"c":29,"v":0},{"r":26,"c":30,"v":0},{"r":26,"c":31,"v":0},{"r":26,"c":32,"v":0},{"r":26,"c":33,"v":0},{"r":26,"c":34,"v":0},{"r":26,"c":35,"v":0},{"r":26,"c":36,"v":0},{"r":26,"c":37,"v":0},{"r":26,"c":38,"v":0},{"r":26,"c":39,"v":0},{"r":26,"c":40,"v":0},{"r":26,"c":41,"v":0},{"r":26,"c":42,"v":0},{"r":26,"c":43,"v":0},
{"r":27,"c":0,"v":-0.7},{"r":27,"c":1,"v":-0.7},{"r":27,"c":2,"v":-0.85,"s":-1},{"r":27,"c":3,"v":-0.35},{"r":27,"c":4,"v":-0.05},{"r":27,"c":5,"v":0.3},{"r":27,"c":6,"v":1,"s":1},{"r":27,"c":7,"v":1,"s":1},{"r":27,"c":8,"v":1,"s":1},{"r":27,"c":9,"v":0},{"r":27,"c":10,"v":0.15},{"r":27,"c":11,"v":-0.5},{"r":27,"c":12,"v":-0.1},{"r":27,"c":13,"v":-0.15},{"r":27,"c":14,"v":0.5},{"r":27,"c":15,"v":-0.1},{"r":27,"c":16,"v":0.2},{"r":27,"c":17,"v":-0.2},{"r":27,"c":18,"v":0.75},{"r":27,"c":19,"v":0.55},{"r":27,"c":20,"v":0},{"r":27,"c":21,"v":-0.1},{"r":27,"c":22,"v":1,"s":1},{"r":27,"c":23,"v":0.55},{"r":27,"c":24,"v":0},{"r":27,"c":25,"v":0.75},{"r":27,"c":26,"v":0.3},{"r":27,"c":27,"v":-0.55},{"r":27,"c":28,"v":1,"s":1},{"r":27,"c":29,"v":0.15},{"r":27,"c":30,"v":-0.1},{"r":27,"c":31,"v":0},{"r":27,"c":32,"v":-0.2},{"r":27,"c":33,"v":1,"s":1},{"r":27,"c":34,"v":1,"s":1},{"r":27,"c":35,"v":0.3},{"r":27,"c":36,"v":-0.1},{"r":27,"c":37,"v":-0.45},{"r":27,"c":38,"v":0},{"r":27,"c":39,"v":-0.1},{"r":27,"c":40,"v":-0.45},{"r":27,"c":41,"v":1,"s":1},{"r":27,"c":42,"v":1,"s":1},{"r":27,"c":43,"v":1,"s":1},
{"r":28,"c":0,"v":-0.55},{"r":28,"c":1,"v":-0.55},{"r":28,"c":2,"v":-0.85,"s":-1},{"r":28,"c":3,"v":-0.35},{"r":28,"c":4,"v":0},{"r":28,"c":5,"v":0},{"r":28,"c":6,"v":1,"s":1},{"r":28,"c":7,"v":1,"s":1},{"r":28,"c":8,"v":1,"s":1},{"r":28,"c":9,"v":0},{"r":28,"c":10,"v":-0.2},{"r":28,"c":11,"v":-0.2},{"r":28,"c":12,"v":-0.4},{"r":28,"c":13,"v":-0.05},{"r":28,"c":14,"v":0.25},{"r":28,"c":15,"v":0.1},{"r":28,"c":16,"v":-0.25},{"r":28,"c":17,"v":-0.1},{"r":28,"c":18,"v":0.65},{"r":28,"c":19,"v":0.25},{"r":28,"c":20,"v":-0.15},{"r":28,"c":21,"v":0},{"r":28,"c":22,"v":1,"s":1},{"r":28,"c":23,"v":1,"s":1},{"r":28,"c":24,"v":0},{"r":28,"c":25,"v":0.7},{"r":28,"c":26,"v":0.8},{"r":28,"c":27,"v":-0.5},{"r":28,"c":28,"v":1,"s":1},{"r":28,"c":29,"v":0.1},{"r":28,"c":30,"v":0.15},{"r":28,"c":31,"v":0},{"r":28,"c":32,"v":0.05},{"r":28,"c":33,"v":1,"s":1},{"r":28,"c":34,"v":1,"s":1},{"r":28,"c":35,"v":0.3},{"r":28,"c":36,"v":-0.1},{"r":28,"c":37,"v":-0.5},{"r":28,"c":38,"v":0},{"r":28,"c":39,"v":-0.35},{"r":28,"c":40,"v":-0.4},{"r":28,"c":41,"v":1,"s":1},{"r":28,"c":42,"v":1,"s":1},{"r":28,"c":43,"v":1,"s":1}
]
},
"vconcat":[
{
"width":710,"height":11,
"layer":[
{"data":{"name":"cols"},"mark":{"type":"rect"},"encoding":{"x":{"field":"c","type":"ordinal","axis":null},"fill":{"field":"grp","type":"nominal","legend":null,"scale":{"domain":["ABA","ACC","MeJA","Ca","GST","hrpz","npp1","flg","lps","PstDC3000","Pstavrrpm1","Psthrcc","Pstpsph","B. cinerea","E. orontii","P. infestans"],"range":["#8e2f37","#dc908c","#8e2f37","#2f7e97","#aad8e6","#2f7e97","#aad8e6","#2f7e97","#aad8e6","#e8701e","#f9ba98","#e8701e","#f9ba98","#e8701e","#f9ba98","#e8701e"]}}}},
{"data":{"values":[{"t":"Hormones","c":4}]},"mark":{"type":"text","fontSize":16,"fontWeight":"bold","baseline":"alphabetic","align":"center","color":"#111111"},"encoding":{"x":{"field":"c","type":"ordinal","axis":null},"y":{"value":-8},"text":{"field":"t"}}},
{"data":{"values":[{"t":"Elicitors","c":14},{"t":"Biotic stresses","c":32}]},"mark":{"type":"text","fontSize":16,"fontWeight":"bold","baseline":"alphabetic","align":"center","color":"#111111"},"encoding":{"x":{"field":"c","type":"ordinal","axis":null,"bandPosition":1},"y":{"value":-8},"text":{"field":"t"}}}
]
},
{
"bounds":"flush",
"spacing":4,
"vconcat":[
{
"width":710,"height":466,
"view":{"fill":"black","stroke":null},
"data":{"name":"cells"},
"transform":[{"lookup":"r","from":{"data":{"name":"genes"},"key":"r","fields":["g"]}}],
"encoding":{
"x":{"field":"c","type":"ordinal","axis":null},
"y":{"field":"g","type":"ordinal","scale":{"domain":["AT5G10830","AT4G11670","AT4G36680","AT3G50950","AT1G55590","AT2G39100","AT2G43210","AT2G05810","AT1G68940","AT2G18520","AT1G13630","AT1G71120","AT1G55580","AT5G49110","AT5G44010","AT4G29560","AT3G24515","AT5G04840","AT4G22160","AT5G01015","AT2G43910/20","AT1G35340","AT3G61210","AT2G45530","AT5G66160","AT5G12460","AT4G14970","AT4G24350","AT4G24340/50"]},"axis":{"orient":"right","ticks":false,"domain":false,"labelPadding":3,"labelFontSize":12,"labelFont":"Liberation Sans","title":null,"labelColor":{"condition":{"test":"indexof(['AT5G49110','AT5G44010','AT4G29560','AT2G43910/20','AT4G14970'], datum.value) >= 0","value":"#e3262c"},"value":"#111111"}}}
},
"layer":[
{"mark":{"type":"rect"},"encoding":{
"color":{"field":"v","type":"quantitative","scale":{"domain":[-1,0,1],"range":["#3a62b8","#000000","#f8e531"],"interpolate":"rgb","clamp":true},"legend":{"type":"gradient","orient":"none","legendX":595,"legendY":527,"direction":"horizontal","title":null,"gradientLength":109,"gradientThickness":6,"gradientStrokeWidth":0,"values":[-1,0,1],"labelExpr":"datum.value == 0 ? '0' : (datum.value < 0 ? '-1.0' : '1.0')","labelFontSize":16,"labelFont":"Liberation Sans","labelColor":"#111111","labelAlign":"center","labelOffset":0,"padding":0}}}},
{"transform":[{"filter":"datum.s == -1"}],"mark":{"type":"square","filled":false,"size":150,"strokeWidth":2,"color":"#d8264f","opacity":1},"encoding":{}},
{"transform":[{"filter":"datum.s == 1"}],"mark":{"type":"square","filled":false,"size":150,"strokeWidth":2,"color":"#5aae3c","opacity":1},"encoding":{}}
]
},
{
"width":710,"height":12,
"layer":[
{"data":{"name":"cols"},"mark":{"type":"rect"},"encoding":{"x":{"field":"c","type":"ordinal","axis":null},"fill":{"field":"grp","type":"nominal","legend":null,"scale":{"domain":["ABA","ACC","MeJA","Ca","GST","hrpz","npp1","flg","lps","PstDC3000","Pstavrrpm1","Psthrcc","Pstpsph","B. cinerea","E. orontii","P. infestans"],"range":["#8e2f37","#dc908c","#8e2f37","#2f7e97","#aad8e6","#2f7e97","#aad8e6","#2f7e97","#aad8e6","#e8701e","#f9ba98","#e8701e","#f9ba98","#e8701e","#f9ba98","#e8701e"]}}}},
{"data":{"values":[{"t":"ABA","c":1},{"t":"ACC","c":4},{"t":"MeJA","c":7}]},"mark":{"type":"text","fontSize":12,"baseline":"middle","align":"center","color":"#111111"},"encoding":{"x":{"field":"c","type":"ordinal","axis":null},"y":{"value":19},"text":{"field":"t"}}},
{"data":{"values":[{"t":"Ca","c":10},{"t":"GST","c":12},{"t":"hrpz","c":14},{"t":"npp1","c":16},{"t":"flg","c":18},{"t":"lps","c":20}]},"mark":{"type":"text","fontSize":12,"baseline":"middle","align":"center","color":"#111111"},"encoding":{"x":{"field":"c","type":"ordinal","axis":null,"bandPosition":0},"y":{"value":19},"text":{"field":"t"}}},
{"data":{"values":[{"t":"B. cinerea","c":34},{"t":"E. orontii","c":38}]},"mark":{"type":"text","fontSize":12,"fontStyle":"italic","baseline":"middle","align":"center","color":"#111111"},"encoding":{"x":{"field":"c","type":"ordinal","axis":null,"bandPosition":0},"y":{"value":19},"text":{"field":"t"}}},
{"data":{"values":[{"t":"P. infestans","c":42}]},"mark":{"type":"text","fontSize":12,"fontStyle":"italic","baseline":"middle","align":"center","color":"#111111"},"encoding":{"x":{"field":"c","type":"ordinal","axis":null},"y":{"value":19},"text":{"field":"t"}}},
{"data":{"values":[{"t":"PstDC3000","c":22},{"t":"Pstavrrpm1","c":25},{"t":"Psthrcc","c":28},{"t":"Pstpsph","c":31}]},"mark":{"type":"text","fontSize":12,"angle":315,"baseline":"middle","align":"right","color":"#111111"},"encoding":{"x":{"field":"c","type":"ordinal","axis":null,"bandPosition":0.65},"y":{"value":22},"text":{"field":"t"}}}
]
}
]
}
]
}
